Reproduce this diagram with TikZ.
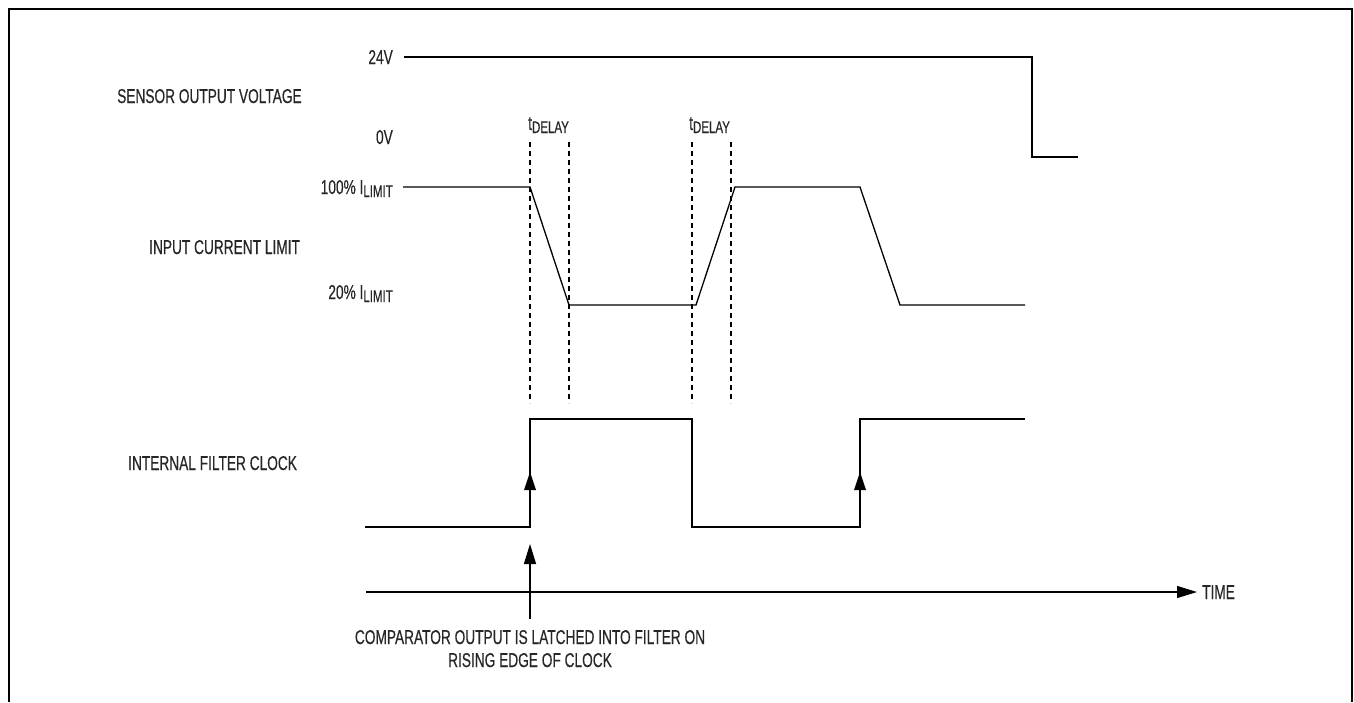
\documentclass[tikz,border=0pt]{standalone}
\usepackage{fontspec}
\setmainfont[FakeStretch=0.685,FakeBold=0.4]{Liberation Sans}
\usetikzlibrary{arrows.meta}
\newcommand{\lowsub}[1]{\raisebox{-3pt}{\fontsize{16.8}{18}\selectfont #1}}
\begin{document}
\begin{tikzpicture}[x=1pt,y=-1pt,
  lbl/.style={inner sep=0pt, font=\fontsize{20}{22}\selectfont, text=black!85},
  sig/.style={line width=1.3pt, line join=miter},
  guide/.style={line width=1.2pt, dash pattern=on 5pt off 4pt},
  frame/.style={line width=2.4pt},
  tip/.style={-{Triangle[length=20pt,width=12pt]}}
]
\useasboundingbox (0,0) rectangle (1354,702);
% frame (open at the bottom)
\draw[frame] (9,702) -- (9,9) -- (1352,9) -- (1352,702);

% left labels
\node[lbl, anchor=base west] (sov) at (117,103) {SENSOR OUTPUT VOLTAGE};
\node[lbl, anchor=base west] (icl) at (149,254) {INPUT CURRENT LIMIT};
\node[lbl, anchor=base west] (ifc) at (128,470) {INTERNAL FILTER CLOCK};

% level labels
\node[lbl, anchor=base east] (v24) at (393,64) {24V};
\node[lbl, anchor=base east] (v0) at (393,144) {0V};
\node[lbl, anchor=base east] (i100) at (393,194) {100\% I\lowsub{LIMIT}};
\node[lbl, anchor=base east] (i20) at (393,299) {20\% I\lowsub{LIMIT}};

% tDELAY labels
\node[lbl, anchor=base west] (td1) at (528,130) {t\lowsub{DELAY}};
\node[lbl, anchor=base west] (td2) at (689,130) {t\lowsub{DELAY}};

% sensor output voltage
\coordinate (va) at (404,57);
\coordinate (vb) at (1032,57);
\coordinate (vc) at (1032,157);
\coordinate (vd) at (1078,157);
\draw[sig] (va) -- (vb) -- (vc) -- (vd);

% input current limit
\draw[sig] (403,187) -- (530,187) -- (569,305) -- (696,305) -- (735,187)
  -- (860,187) -- (900,305) -- (1025,305);

% dashed guides
\foreach \gx in {530,569,692,731}
  \draw[guide] (\gx,142) -- (\gx,403);

% internal filter clock
\draw[sig] (365,527) -- (530,527) -- (530,419) -- (692,419) -- (692,527)
  -- (860,527) -- (860,419) -- (1025,419);
\fill (530,472) -- (524,490) -- (536,490) -- cycle;
\fill (860,472) -- (854,490) -- (866,490) -- cycle;

% time axis
\node[lbl, anchor=base west] (time) at (1202,599) {TIME};
\coordinate (t0) at (366,592);
\coordinate (t1) at (1197,592);
\draw[sig, tip] (t0) -- (t1);

% comparator note
\node[lbl, anchor=base] (cmp1) at (530,644) {COMPARATOR OUTPUT IS LATCHED INTO FILTER ON};
\node[lbl, anchor=base] (cmp2) at (530,667) {RISING EDGE OF CLOCK};
\coordinate (ca) at (530,619);
\coordinate (cb) at (530,544);
\draw[sig, tip] (ca) -- (cb);
\end{tikzpicture}
\end{document}
